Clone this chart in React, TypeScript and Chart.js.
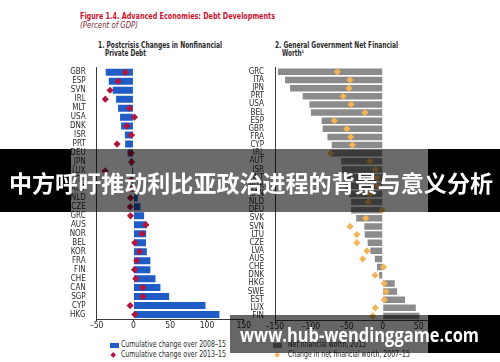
import React, { useEffect, useRef } from 'react';
import { Chart, registerables } from 'chart.js';

Chart.register(...registerables);

// ---------- Data ----------
const privateCountries = [
  'GBR', 'ESP', 'SVN', 'IRL', 'MLT', 'USA', 'DNK', 'ISR', 'PRT', 'DEU', 'JPN', 'LUX', 'ITA', 'AUT',
  'NLD', 'CZE', 'GRC', 'AUS', 'NOR', 'BEL', 'KOR', 'FRA', 'FIN', 'CHE', 'CAN', 'SGP', 'CYP', 'HKG',
];
const privateChange2008to15 = [
  -37.7, -33.6, -28.1, -23.6, -20.9, -18.2, -16.8, -11.7, -11.3, -8, -5, -2, -1, 1,
  6, 9.5, 14.5, 17.8, 17.3, 17, 18.2, 23, 23, 30, 36.7, 48.5, 98, 117,
];
const privateChange2013to15 = [
  -10.9, -20.9, -31.8, -38.3, -5.5, 1.4, -9, -2.7, -22.3, -3, -2.5, -38.5, -3, -2,
  -4, -4.5, -4, 16.8, 11.8, 1.8, 8.2, 4.5, 1.4, 3.2, 12.7, 12.7, -4.5, 1.8,
];
const privateTicks = [-50, 0, 50, 100, 150];

const govCountries = [
  'GRC', 'ITA', 'JPN', 'PRT', 'USA', 'BEL', 'ESP', 'GBR', 'FRA', 'CYP', 'IRL', 'AUT', 'ISR', 'MLT', 'NOR', 'CAN',
  'NLD', 'DEU', 'SVK', 'SVN', 'LTU', 'CZE', 'LVA', 'AUS', 'CHE', 'DNK', 'HKG', 'SWE', 'EST', 'LUX', 'FIN',
];
const govNetWorth2015 = [
  -146, -136, -129, -111.4, -102, -100, -85, -83.6, -77, -71, -73.4, -58, -57, -54, -52, -47,
  -44, -44, -37, -25.6, -25, -21, -17.3, -11, -8, -5, 16.7, 20, 31, 46, 51,
];
const govChange2007to15 = [
  -63.2, -45.5, -47, -55, -44, -24.7, -67.4, -50, -44.6, -42.3, -72.4, -17.7, -10.3, -8, -7, -18,
  -20, -1, -23.7, -45.5, -36, -36, -22, -28, 1, -10.7, 2.2, 4.6, 2.2, -10.3, -14,
];
const govTicks = [-150, -100, -50, 0, 50];

// ---------- Styles ----------
const NARROW = "'Liberation Sans Narrow', 'DejaVu Sans Condensed', 'Liberation Sans', Arial, sans-serif";
const BLUE = '#1f5cc6';
const RED = '#b3163c';
const GRAY = '#8b8b8b';
const ORANGE = '#f4b356';
const AXIS = '#3a3a3a';
const TEXT = '#2a2a2a';

type PanelProps = {
  labels: string[];
  bars: number[];
  points: number[];
  barColor: string;
  pointColor: string;
  min: number;
  max: number;
  ticks: number[];
  yWidth: number;
  padTop: number;
  padRight: number;
  barPct: number;
  left: number;
  top: number;
  width: number;
  height: number;
};

function Panel(p: PanelProps) {
  const ref = useRef<HTMLCanvasElement | null>(null);
  useEffect(() => {
    if (!ref.current) return;
    const fmt = (v: number) => (v < 0 ? '\u2013' + Math.abs(v) : String(v));
    const chart = new Chart(ref.current, {
      type: 'bar',
      data: {
        labels: p.labels,
        datasets: [
          {
            type: 'line',
            data: p.points,
            indexAxis: 'y',
            showLine: false,
            pointStyle: 'rectRot',
            pointRadius: 3.6,
            pointBackgroundColor: p.pointColor,
            pointBorderWidth: 0,
            pointBorderColor: p.pointColor,
            order: 0,
          } as any,
          {
            type: 'bar',
            data: p.bars,
            backgroundColor: p.barColor,
            barPercentage: p.barPct,
            categoryPercentage: 1,
            order: 1,
          } as any,
        ],
      },
      options: {
        indexAxis: 'y',
        animation: false,
        responsive: false,
        maintainAspectRatio: false,
        events: [],
        layout: { padding: { top: p.padTop, right: p.padRight, left: 0, bottom: 0 } },
        plugins: { legend: { display: false }, tooltip: { enabled: false } },
        scales: {
          x: {
            type: 'linear',
            min: p.min,
            max: p.max,
            afterBuildTicks: (s: any) => {
              s.ticks = p.ticks.map((v) => ({ value: v }));
            },
            afterFit: (s: any) => {
              s.height = 17;
            },
            grid: { display: true, drawOnChartArea: false, drawTicks: true, tickLength: 2, color: AXIS },
            border: { display: true, color: AXIS, width: 1 },
            ticks: {
              font: { family: NARROW, size: 8.5 },
              color: TEXT,
              padding: 0,
              autoSkip: false,
              maxRotation: 0,
              callback: (v: any) => fmt(Number(v)),
            },
          },
          y: {
            type: 'category',
            afterFit: (s: any) => {
              s.width = p.yWidth;
            },
            grid: { display: false },
            border: { display: true, color: AXIS, width: 1 },
            ticks: { font: { family: NARROW, size: 8 }, color: TEXT, padding: 3, autoSkip: false },
          },
        },
      } as any,
    });
    return () => chart.destroy();
  }, []);
  return (
    <canvas
      ref={ref}
      width={p.width}
      height={p.height}
      style={{ position: 'absolute', left: p.left, top: p.top, width: p.width, height: p.height }}
    />
  );
}

let measureCtx: CanvasRenderingContext2D | null = null;
function measure(font: string, text: string) {
  if (!measureCtx) measureCtx = document.createElement('canvas').getContext('2d');
  if (!measureCtx) return 1;
  measureCtx.font = font;
  return measureCtx.measureText(text).width || 1;
}

type FitProps = {
  text: string;
  x: number;
  cy: number;
  size: number;
  width: number;
  family: string;
  weight?: number;
  italic?: boolean;
  color: string;
};

function FitText({ text, x, cy, size, width, family, weight = 400, italic = false, color }: FitProps) {
  const font = `${italic ? 'italic' : 'normal'} ${weight} ${size}px ${family}`;
  const w = measure(font, text);
  const sx = width / w;
  return (
    <div
      style={{
        position: 'absolute',
        left: x,
        top: cy - size / 2,
        fontFamily: family,
        fontSize: size,
        fontWeight: weight,
        fontStyle: italic ? 'italic' : 'normal',
        lineHeight: `${size}px`,
        whiteSpace: 'nowrap',
        color,
        transform: `scaleX(${sx})`,
        transformOrigin: '0 0',
      }}
    >
      {text}
    </div>
  );
}

function Diamond({ x, y, color, size }: { x: number; y: number; color: string; size: number }) {
  return (
    <div
      style={{
        position: 'absolute',
        left: x - size / 2,
        top: y - size / 2,
        width: size,
        height: size,
        background: color,
        transform: 'rotate(45deg)',
      }}
    />
  );
}

export default function App() {
  return (
    <div
      style={{
        position: 'absolute',
        left: 0,
        top: 0,
        width: 500,
        height: 362,
        background: '#ffffff',
        overflow: 'hidden',
      }}
    >
      <FitText text="Figure 1.4. Advanced Economies: Debt Developments" x={80} cy={16} size={9.5} width={195} family={NARROW} weight={700} color="#c8142f" />
      <FitText text="(Percent of GDP)" x={80} cy={26} size={8} width={58} family={NARROW} italic color="#7e2a36" />

      <FitText text="1. Postcrisis Changes in Nonfinancial" x={98} cy={45.5} size={8} width={124} family={NARROW} weight={700} color={TEXT} />
      <FitText text="Private Debt" x={105} cy={54} size={8} width={41} family={NARROW} weight={700} color={TEXT} />
      <FitText text="2. General Government Net Financial" x={275} cy={45.5} size={8} width={123} family={NARROW} weight={700} color={TEXT} />
      <FitText text={'Worth\u00b9'} x={282} cy={54} size={8} width={22} family={NARROW} weight={700} color={TEXT} />

      <Panel
        labels={privateCountries}
        bars={privateChange2008to15}
        points={privateChange2013to15}
        barColor={BLUE}
        pointColor={RED}
        min={-50}
        max={150}
        ticks={privateTicks}
        yWidth={36.7}
        padTop={4}
        padRight={16.3}
        barPct={0.78}
        left={60}
        top={60}
        width={200}
        height={276}
      />
      <Panel
        labels={govCountries}
        bars={govNetWorth2015}
        points={govChange2007to15}
        barColor={GRAY}
        pointColor={ORANGE}
        min={-150}
        max={63}
        ticks={govTicks}
        yWidth={39}
        padTop={5}
        padRight={8}
        barPct={0.8}
        left={236}
        top={60}
        width={200}
        height={277}
      />

      {/* legends */}
      <div style={{ position: 'absolute', left: 110, top: 343, width: 9, height: 4.5, background: BLUE }} />
      <FitText text={'Cumulative change over 2008\u201315'} x={121} cy={345} size={8} width={105} family={NARROW} color={TEXT} />
      <Diamond x={113.5} y={355} color={RED} size={4.4} />
      <FitText text={'Cumulative change over 2013\u201315'} x={121} cy={355} size={8} width={105} family={NARROW} color={TEXT} />

      <div style={{ position: 'absolute', left: 273, top: 343, width: 9, height: 4.5, background: GRAY }} />
      <FitText text="Net financial worth, 2015" x={288} cy={345} size={8} width={78} family={NARROW} color={TEXT} />
      <Diamond x={277} y={355} color={ORANGE} size={4.4} />
      <FitText text={'Change in net financial worth, 2007\u201315'} x={288} cy={355} size={8} width={122} family={NARROW} color={TEXT} />

      {/* banner overlay */}
      <div style={{ position: 'absolute', left: 0, top: 149, width: 71, height: 63, background: '#000' }} />
      <div style={{ position: 'absolute', left: 71, top: 149, width: 357, height: 63, background: 'rgba(0,0,0,0.58)' }} />
      <div style={{ position: 'absolute', left: 428, top: 149, width: 72, height: 63, background: '#000' }} />
      <FitText
        text="中方呼吁推动利比亚政治进程的背景与意义分析"
        x={9}
        cy={182}
        size={23}
        width={484}
        family="'Noto Sans CJK SC', sans-serif"
        weight={700}
        color="#ffffff"
      />

      {/* watermark */}
      <div style={{ position: 'absolute', left: 230, top: 315, width: 198, height: 38, background: 'rgba(0,0,0,0.6)' }} />
      <div style={{ position: 'absolute', left: 428, top: 315, width: 72, height: 38, background: '#000' }} />
      <FitText
        text="www.hub-wendinggame.com"
        x={240}
        cy={335}
        size={19}
        width={239}
        family="'Open Sans', 'DejaVu Sans', sans-serif"
        weight={700}
        color="#ffffff"
      />
    </div>
  );
}
